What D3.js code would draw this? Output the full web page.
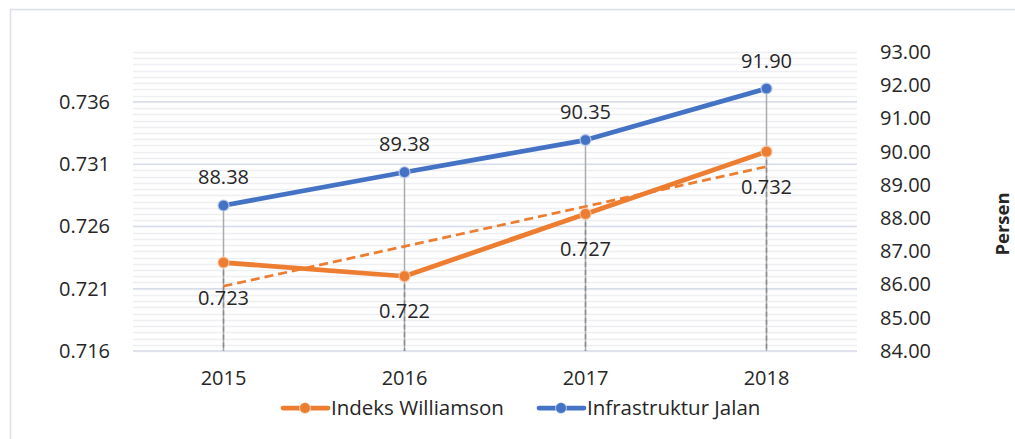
<!DOCTYPE html>
<html>
<head>
<meta charset="utf-8">
<script src="https://cdn.jsdelivr.net/npm/d3@7"></script>
<style>
  html, body { margin: 0; padding: 0; background: #fff; }
  svg { display: block; }
  text { font-family: "Open Sans", "Noto Sans", sans-serif; fill: #262626; }
</style>
</head>
<body>
<svg id="chart" width="1015" height="439"></svg>
<script>
// ---- data ----
const years = ["2015", "2016", "2017", "2018"];
const williamson = [0.7231, 0.7220, 0.7270, 0.7320];
const williamsonLabels = ["0.723", "0.722", "0.727", "0.732"];
const jalan = [88.38, 89.38, 90.35, 91.90];
const jalanLabels = ["88.38", "89.38", "90.35", "91.90"];
const trendValues = [0.7212, 0.7308]; // linear trendline of Indeks Williamson, at 2015 and 2018
const leftTicks = [0.716, 0.721, 0.726, 0.731, 0.736];
const rightTicks = [84, 85, 86, 87, 88, 89, 90, 91, 92, 93];
const seriesNames = ["Indeks Williamson", "Infrastruktur Jalan"];
const rightAxisTitle = "Persen";

// ---- layout ----
const svg = d3.select("#chart");
const W = 1015, H = 439;
const plot = { left: 133, right: 857, top: 52, bottom: 351 };
const orange = "#ED7D31", blue = "#4472C4";

// chart border
svg.append("path")
  .attr("d", `M10.5,${H} L10.5,9.5 L${W},9.5`)
  .attr("fill", "none").attr("stroke", "#dcdfe6").attr("stroke-width", 1.5);

const x = d3.scaleBand().domain(years).range([plot.left, plot.right]);
const yL = d3.scaleLinear().domain([0.716, 0.740]).range([plot.bottom, plot.top]);
const yR = d3.scaleLinear().domain([84, 93]).range([plot.bottom, plot.top]);
const cx = d => x(d) + x.bandwidth() / 2;

// minor gridlines
const minor = d3.range(0, 49).map(i => 0.716 + i * 0.0005);
svg.append("g").selectAll("line").data(minor).join("line")
  .attr("x1", plot.left).attr("x2", plot.right)
  .attr("y1", d => Math.round(yL(d)) + 0.5).attr("y2", d => Math.round(yL(d)) + 0.5)
  .attr("stroke", "#eeeff2").attr("stroke-width", 1.5);
// major gridlines
svg.append("g").selectAll("line").data(leftTicks).join("line")
  .attr("x1", plot.left).attr("x2", plot.right)
  .attr("y1", d => yL(d)).attr("y2", d => yL(d))
  .attr("stroke", "#d9dde9").attr("stroke-width", 1.5);

// left axis
const axL = svg.append("g").attr("transform", `translate(${plot.left},0)`)
  .call(d3.axisLeft(yL).tickValues(leftTicks).tickFormat(d3.format(".3f")).tickSize(0).tickPadding(23));
axL.select(".domain").remove();
axL.selectAll("text").attr("font-size", 20).attr("fill", "#262626")
  .style("font-family", '"Open Sans", sans-serif');

// right axis
const axR = svg.append("g").attr("transform", `translate(${plot.right},0)`)
  .call(d3.axisRight(yR).tickValues(rightTicks).tickFormat(d3.format(".2f")).tickSize(0).tickPadding(23));
axR.select(".domain").remove();
axR.selectAll("text").attr("font-size", 20).attr("fill", "#262626")
  .style("font-family", '"Open Sans", sans-serif');

// bottom axis
const axB = svg.append("g").attr("transform", `translate(0,${plot.bottom})`)
  .call(d3.axisBottom(x).tickSize(0).tickPadding(20));
axB.select(".domain").remove();
axB.selectAll("text").attr("font-size", 20).attr("fill", "#262626")
  .style("font-family", '"Open Sans", sans-serif');

// right axis title
svg.append("text")
  .attr("transform", `translate(1001,224) rotate(-90)`)
  .attr("text-anchor", "middle").attr("dominant-baseline", "central")
  .attr("font-size", 18.5).attr("font-weight", "bold").attr("fill", "#0d0d0d")
  .text(rightAxisTitle);

// drop lines (blue: solid, orange: dashed)
svg.append("g").selectAll("line").data(years).join("line")
  .attr("x1", d => cx(d)).attr("x2", d => cx(d))
  .attr("y1", (d, i) => yR(jalan[i])).attr("y2", plot.bottom)
  .attr("stroke", "#ababab").attr("stroke-width", 1.5);
svg.append("g").selectAll("line").data(years).join("line")
  .attr("x1", d => cx(d)).attr("x2", d => cx(d))
  .attr("y1", (d, i) => yL(williamson[i])).attr("y2", plot.bottom)
  .attr("stroke", "#8a8a8a").attr("stroke-width", 1.5).attr("stroke-dasharray", "5,3");

// trendline
svg.append("line")
  .attr("x1", cx(years[0])).attr("x2", cx(years[years.length - 1]))
  .attr("y1", yL(trendValues[0])).attr("y2", yL(trendValues[1]))
  .attr("stroke", orange).attr("stroke-width", 2.75).attr("stroke-dasharray", "9,5");

// series lines
const lineL = d3.line().x((d, i) => cx(years[i])).y(d => yL(d));
const lineR = d3.line().x((d, i) => cx(years[i])).y(d => yR(d));
svg.append("path").datum(williamson).attr("d", lineL)
  .attr("fill", "none").attr("stroke", orange).attr("stroke-width", 4.75).attr("stroke-linejoin", "round").attr("stroke-linecap", "round");
svg.append("path").datum(jalan).attr("d", lineR)
  .attr("fill", "none").attr("stroke", blue).attr("stroke-width", 4.75).attr("stroke-linejoin", "round").attr("stroke-linecap", "round");

// markers
svg.append("g").selectAll("circle").data(williamson).join("circle")
  .attr("cx", (d, i) => cx(years[i])).attr("cy", d => yL(d)).attr("r", 5.5)
  .attr("fill", orange).attr("stroke", "#f6c3a0").attr("stroke-width", 1.2);
svg.append("g").selectAll("circle").data(jalan).join("circle")
  .attr("cx", (d, i) => cx(years[i])).attr("cy", d => yR(d)).attr("r", 5.5)
  .attr("fill", blue).attr("stroke", "#b7c8e8").attr("stroke-width", 1.2);

// data labels
svg.append("g").selectAll("text").data(jalan).join("text")
  .attr("x", (d, i) => cx(years[i])).attr("y", d => yR(d) - 21)
  .attr("text-anchor", "middle").attr("font-size", 20)
  .text((d, i) => jalanLabels[i]);
svg.append("g").selectAll("text").data(williamson).join("text")
  .attr("x", (d, i) => cx(years[i])).attr("y", d => yL(d) + 42)
  .attr("text-anchor", "middle").attr("font-size", 20)
  .text((d, i) => williamsonLabels[i]);

// legend
const legend = svg.append("g");
const legItems = [
  { name: seriesNames[0], color: orange, x0: 283 },
  { name: seriesNames[1], color: blue, x0: 539 }
];
const ly = 408;
legItems.forEach(it => {
  legend.append("line").attr("x1", it.x0).attr("x2", it.x0 + 45).attr("y1", ly).attr("y2", ly)
    .attr("stroke", it.color).attr("stroke-width", 4.75).attr("stroke-linecap", "round");
  legend.append("circle").attr("cx", it.x0 + 22).attr("cy", ly).attr("r", 5.5)
    .attr("fill", it.color).attr("stroke", "#fff").attr("stroke-opacity", 0.5).attr("stroke-width", 1.2);
  legend.append("text").attr("x", it.x0 + 48).attr("y", ly + 7).attr("font-size", 20.5).text(it.name);
});
</script>
</body>
</html>
